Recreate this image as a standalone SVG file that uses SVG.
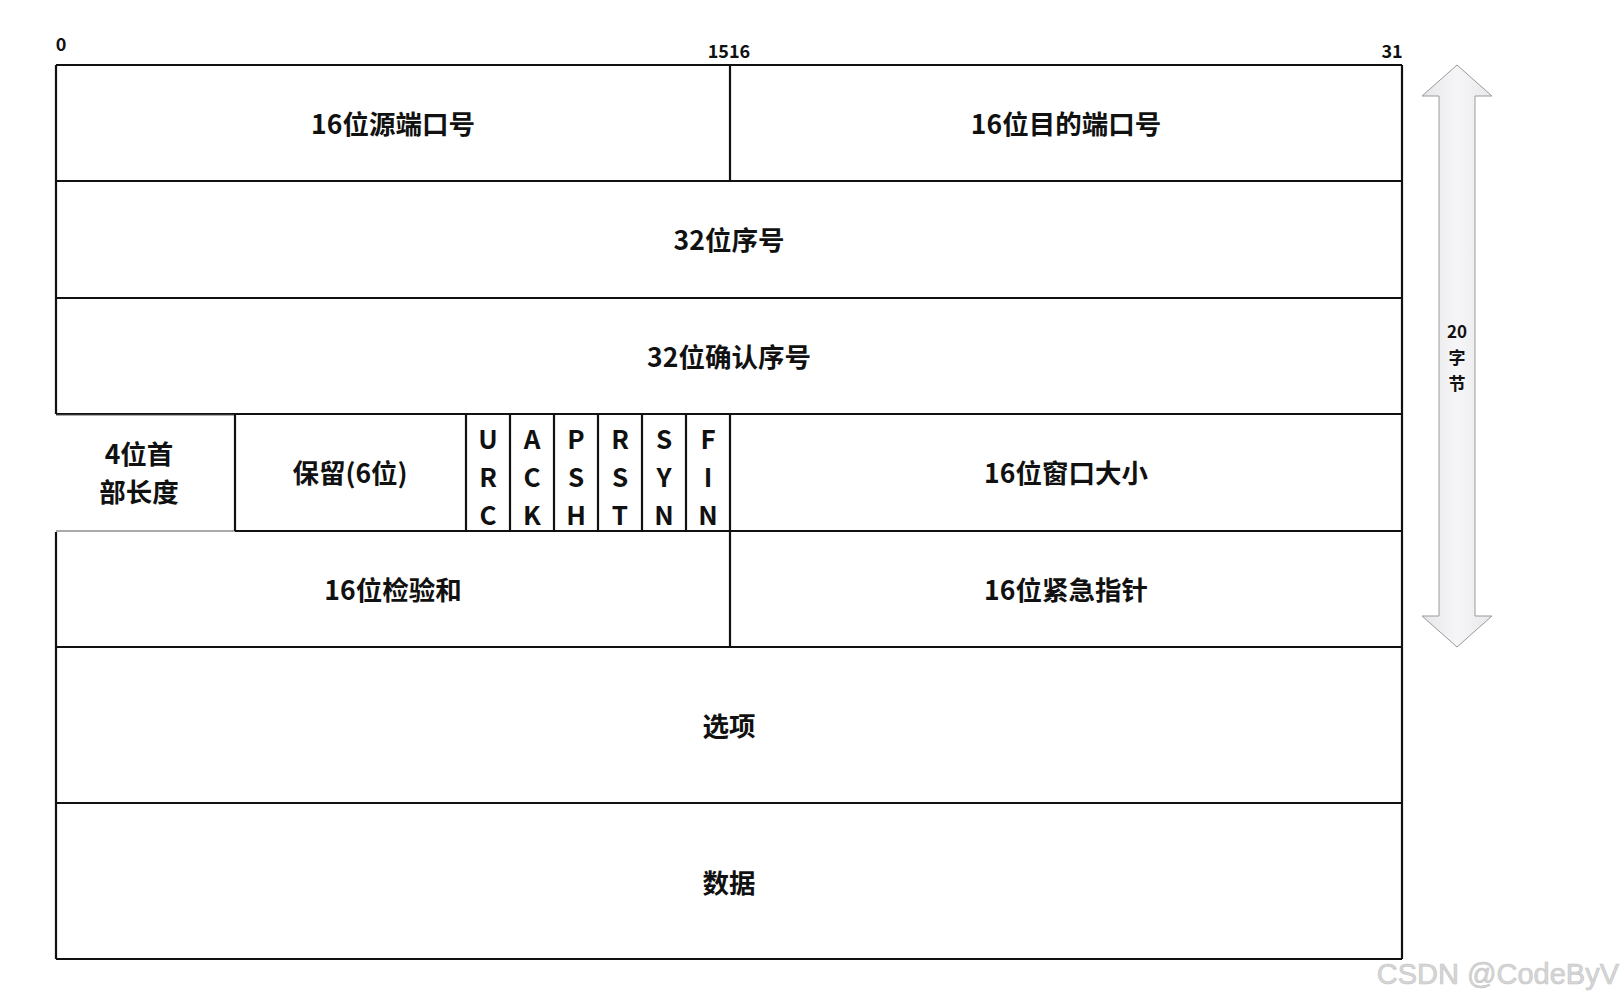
<svg xmlns="http://www.w3.org/2000/svg" width="1620" height="1000" viewBox="0 0 1620 1000">
<defs>
<style>
.ln{stroke:#111;stroke-width:2.2;fill:none}
.thin{stroke:#555;stroke-width:1;fill:none}
.t{font-family:"Noto Sans CJK SC","Noto Sans",sans-serif;font-weight:bold;font-size:26.5px;fill:#111;text-anchor:middle;dominant-baseline:central}
.f{font-family:"Noto Sans CJK SC","Noto Sans",sans-serif;font-weight:600;font-size:26px;fill:#111;text-anchor:middle;dominant-baseline:central}
.h{font-family:"Noto Sans CJK SC","Noto Sans",sans-serif;font-weight:bold;font-size:18px;fill:#111;text-anchor:middle}
.a{font-family:"Noto Sans CJK SC","Noto Sans",sans-serif;font-weight:bold;font-size:17px;fill:#111;text-anchor:middle;dominant-baseline:central}
</style>
<linearGradient id="ag" x1="0" y1="0" x2="1" y2="0">
<stop offset="0" stop-color="#e6e6e9"/>
<stop offset="0.5" stop-color="#f6f6f8"/>
<stop offset="1" stop-color="#e8e8eb"/>
</linearGradient>
</defs>
<rect width="1620" height="1000" fill="#fff"/>
<g id="bit-labels">
<text class="h" x="61" y="51">0</text>
<text class="h" x="729" y="58">1516</text>
<text class="h" x="1392" y="58">31</text>
</g>
<g id="connectors">
<line class="ln" x1="56" y1="65" x2="1402" y2="65"/>
<line class="ln" x1="56" y1="181" x2="1402" y2="181"/>
<line class="ln" x1="56" y1="298" x2="1402" y2="298"/>
<line class="ln" x1="56" y1="414" x2="1402" y2="414"/>
<line class="ln" x1="235" y1="531" x2="1402" y2="531"/>
<line class="thin" x1="56" y1="415" x2="235" y2="415"/>
<line class="thin" x1="56" y1="531" x2="235" y2="531"/>
<line class="ln" x1="56" y1="647" x2="1402" y2="647"/>
<line class="ln" x1="56" y1="803" x2="1402" y2="803"/>
<line class="ln" x1="56" y1="959" x2="1402" y2="959"/>
<line class="ln" x1="56" y1="65" x2="56" y2="414"/>
<line class="ln" x1="56" y1="532" x2="56" y2="959"/>
<line class="ln" x1="1402" y1="65" x2="1402" y2="959"/>
<line class="ln" x1="730" y1="65" x2="730" y2="181"/>
<line class="ln" x1="730" y1="414" x2="730" y2="647"/>
<line class="ln" x1="235" y1="414" x2="235" y2="531"/>
<line class="ln" x1="466" y1="414" x2="466" y2="531"/>
<line class="ln" x1="510" y1="414" x2="510" y2="531"/>
<line class="ln" x1="554" y1="414" x2="554" y2="531"/>
<line class="ln" x1="598" y1="414" x2="598" y2="531"/>
<line class="ln" x1="642" y1="414" x2="642" y2="531"/>
<line class="ln" x1="686" y1="414" x2="686" y2="531"/>
</g>
<g id="src-port"><text class="t" x="393" y="122">16位源端口号</text></g>
<g id="dst-port"><text class="t" x="1066" y="122">16位目的端口号</text></g>
<g id="seq"><text class="t" x="729" y="238">32位序号</text></g>
<g id="ack-seq"><text class="t" x="729" y="355">32位确认序号</text></g>
<g id="hdr-len"><text class="t" x="139" y="452">4位首</text><text class="t" x="139" y="490">部长度</text></g>
<g id="reserved"><text class="t" x="350" y="471">保留(6位)</text></g>
<g id="flag-urg"><text class="f" x="488" y="437">U</text><text class="f" x="488" y="475">R</text><text class="f" x="488" y="513">C</text></g>
<g id="flag-ack"><text class="f" x="532" y="437">A</text><text class="f" x="532" y="475">C</text><text class="f" x="532" y="513">K</text></g>
<g id="flag-psh"><text class="f" x="576" y="437">P</text><text class="f" x="576" y="475">S</text><text class="f" x="576" y="513">H</text></g>
<g id="flag-rst"><text class="f" x="620" y="437">R</text><text class="f" x="620" y="475">S</text><text class="f" x="620" y="513">T</text></g>
<g id="flag-syn"><text class="f" x="664" y="437">S</text><text class="f" x="664" y="475">Y</text><text class="f" x="664" y="513">N</text></g>
<g id="flag-fin"><text class="f" x="708" y="437">F</text><text class="f" x="708" y="475">I</text><text class="f" x="708" y="513">N</text></g>
<g id="window"><text class="t" x="1066" y="471">16位窗口大小</text></g>
<g id="checksum"><text class="t" x="393" y="588">16位检验和</text></g>
<g id="urgent"><text class="t" x="1066" y="588">16位紧急指针</text></g>
<g id="options"><text class="t" x="729" y="724">选项</text></g>
<g id="data"><text class="t" x="729" y="881">数据</text></g>
<g id="size-arrow">
<path d="M1457,65 L1492,96 L1475,96 L1475,616 L1492,616 L1457,647 L1422,616 L1439,616 L1439,96 L1422,96 Z" fill="url(#ag)" stroke="#9a9a9a" stroke-width="1"/>
<text class="a" x="1457" y="330">20</text>
<text class="a" x="1457" y="356">字</text>
<text class="a" x="1457" y="382">节</text>
</g>
<g id="watermark">
<text x="1619" y="984" text-anchor="end" font-family="'Liberation Sans',Arial,sans-serif" font-size="29" fill="#d6d6d6" stroke="#c4c4c4" stroke-width="0.6">CSDN @CodeByV</text>
</g>
</svg>
